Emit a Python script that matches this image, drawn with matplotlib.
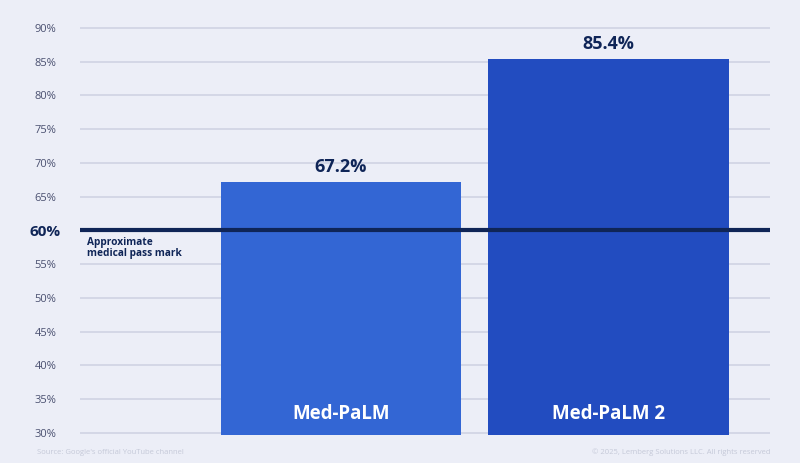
import matplotlib
matplotlib.use("Agg")
import matplotlib.pyplot as plt

plt.rcParams['font.family'] = ['Open Sans', 'DejaVu Sans']

# data
models = ["Med-PaLM", "Med-PaLM 2"]
scores = [67.2, 85.4]
bar_colors = ["#3366D4", "#224CC0"]
y_ticks = [30, 35, 40, 45, 50, 55, 65, 70, 75, 80, 85, 90]
pass_mark = 60

bg = "#ECEEF7"
navy = "#0F2557"
grid_col = "#D0D3E3"

fig = plt.figure(figsize=(8, 4.63), dpi=100, facecolor=bg)
ax = fig.add_axes([0.1, 0.0605, 0.8625, 0.8835])
ax.set_facecolor(bg)

x = [0, 1]
ax.set_xlim(-0.976, 1.604)
ax.set_ylim(29.7, 90.3)

for t in y_ticks:
    ax.axhline(t, color=grid_col, lw=1.2, zorder=0)
ax.axhline(pass_mark, color=navy, lw=3, zorder=3)

bars = ax.bar(x, [s - 29.7 for s in scores], bottom=29.7, width=0.9,
              color=bar_colors, zorder=2)

for xi, s, name in zip(x, scores, models):
    ax.annotate(f"{s:.1f}%", (xi, s), xytext=(0, 4), textcoords="offset points",
                ha="center", va="bottom", fontsize=13, fontweight="bold", color=navy)
    ax.annotate(name, (xi, 29.7), xytext=(0, 15), textcoords="offset points",
                ha="center", va="center", fontsize=13.5, fontweight="bold", color="white", zorder=4)

ax.set_yticks(y_ticks + [pass_mark])
ax.set_yticklabels([f"{t}%" for t in y_ticks] + [f"{pass_mark}%"])
for lab in ax.get_yticklabels():
    lab.set_horizontalalignment("center")
    if lab.get_text() == f"{pass_mark}%":
        lab.set_fontsize(11)
        lab.set_fontweight("bold")
        lab.set_color(navy)
    else:
        lab.set_fontsize(8)
        lab.set_color("#4A5070")
ax.tick_params(axis="y", length=0, pad=25)
ax.set_xticks([])
for sp in ax.spines.values():
    sp.set_visible(False)

ax.text(-0.95, 59.0, "Approximate\nmedical pass mark", ha="left", va="top",
        fontsize=7.3, fontweight="bold", color=navy, linespacing=1.0)

fig.text(37 / 800, 11 / 463, "Source: Google's official YouTube channel",
         fontsize=5.5, color="#C5C9D8", ha="left", va="center")
fig.text(770 / 800, 11 / 463, "© 2025, Lemberg Solutions LLC. All rights reserved",
         fontsize=5.5, color="#C5C9D8", ha="right", va="center")

fig.savefig("out.png", dpi=100, facecolor=bg)
